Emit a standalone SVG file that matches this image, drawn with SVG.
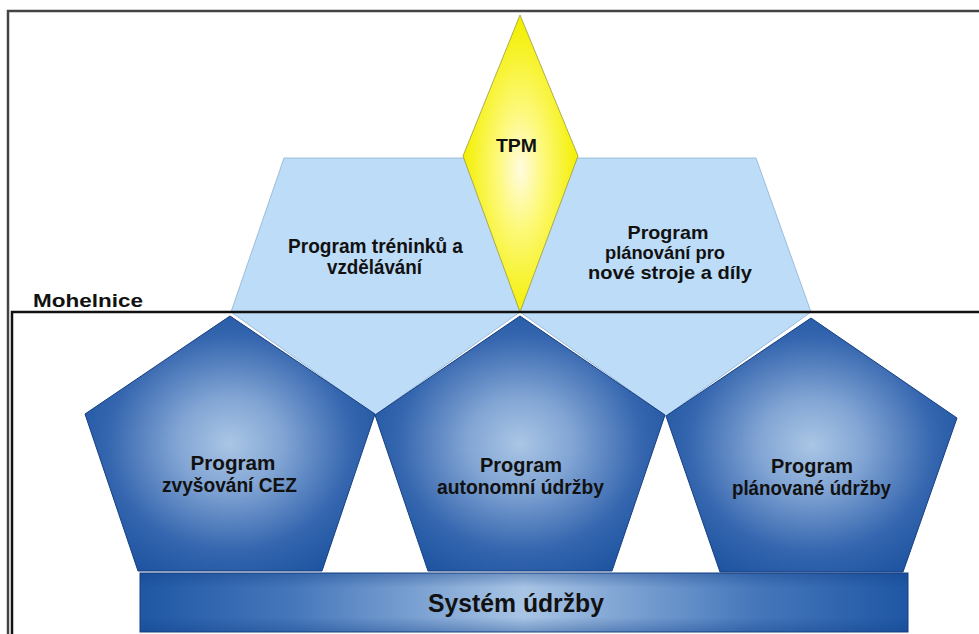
<svg xmlns="http://www.w3.org/2000/svg" width="979" height="634" viewBox="0 0 979 634">
  <defs>
    <radialGradient id="penta" cx="0.5" cy="0.5" r="0.6">
      <stop offset="0" stop-color="#aac6e5"/>
      <stop offset="0.3" stop-color="#82a5d4"/>
      <stop offset="0.7" stop-color="#3566af"/>
      <stop offset="1" stop-color="#1b529f"/>
    </radialGradient>
    <radialGradient id="gold" cx="0.5" cy="0.52" r="0.5">
      <stop offset="0" stop-color="#fffbe0"/>
      <stop offset="0.4" stop-color="#fdf97a"/>
      <stop offset="1" stop-color="#f3ef00"/>
    </radialGradient>
    <linearGradient id="bar" x1="0" y1="0" x2="1" y2="0">
      <stop offset="0" stop-color="#1f57a4"/>
      <stop offset="0.2" stop-color="#4677bb"/>
      <stop offset="0.5" stop-color="#a9c5e5"/>
      <stop offset="0.8" stop-color="#4677bb"/>
      <stop offset="1" stop-color="#1f57a4"/>
    </linearGradient>
    <linearGradient id="barShade" x1="0" y1="0" x2="0" y2="1">
      <stop offset="0" stop-color="#0d3d85" stop-opacity="0.35"/>
      <stop offset="0.25" stop-color="#0d3d85" stop-opacity="0"/>
      <stop offset="0.75" stop-color="#0d3d85" stop-opacity="0"/>
      <stop offset="1" stop-color="#0d3d85" stop-opacity="0.35"/>
    </linearGradient>
  </defs>
  <style>
    .lbl { font-family: "Liberation Sans", Arial, sans-serif; font-weight: bold; fill: #111; }
    .pillar { fill: #bddcf8; stroke: #8fb0d0; stroke-width: 0.8; }
    .pent { fill: url(#penta); stroke: #163f80; stroke-width: 1; }
    .frame { fill: none; }
  </style>

  <rect width="979" height="634" fill="#ffffff"/>

  <!-- outer frame -->
  <path class="frame" d="M8 640 V11 H990" stroke="#444" stroke-width="2.5"/>

  <!-- upper pillars -->
  <g id="training">
    <polygon class="pillar" points="284,158 472,158 520,312 375,415 231,312"/>
    <text class="lbl" font-size="20" x="375.5" y="253" text-anchor="middle" textLength="175" lengthAdjust="spacingAndGlyphs">Program tréninků a</text>
    <text class="lbl" font-size="20" x="374.5" y="274" text-anchor="middle" textLength="95" lengthAdjust="spacingAndGlyphs">vzdělávání</text>
  </g>
  <g id="planning-new">
    <polygon class="pillar" points="570,158 756,158 811,312 666,416 520,312"/>
    <text class="lbl" font-size="19" x="668" y="239" text-anchor="middle" textLength="81" lengthAdjust="spacingAndGlyphs">Program</text>
    <text class="lbl" font-size="19" x="665" y="259" text-anchor="middle" textLength="120" lengthAdjust="spacingAndGlyphs">plánování pro</text>
    <text class="lbl" font-size="19" x="670" y="279" text-anchor="middle" textLength="164" lengthAdjust="spacingAndGlyphs">nové stroje a díly</text>
  </g>

  <!-- apex -->
  <g id="tpm">
    <polygon points="520,15 578,156 520,312 463,156" fill="url(#gold)" stroke="#9a9a40" stroke-width="0.8"/>
    <text class="lbl" font-size="19" x="516.5" y="152" text-anchor="middle" textLength="41" lengthAdjust="spacingAndGlyphs">TPM</text>
  </g>

  <!-- inner frame -->
  <g id="mohelnice">
    <path class="frame" d="M12 640 V312 H990" stroke="#111" stroke-width="2.5"/>
    <text class="lbl" font-size="19" x="33" y="307" textLength="110" lengthAdjust="spacingAndGlyphs">Mohelnice</text>
  </g>

  <!-- pillars -->
  <g id="oee">
    <polygon class="pent" points="230,316 375,414 322,571 138,571 85,414"/>
    <text class="lbl" font-size="19.5" x="233" y="470" text-anchor="middle" textLength="85" lengthAdjust="spacingAndGlyphs">Program</text>
    <text class="lbl" font-size="19.5" x="229.5" y="492" text-anchor="middle" textLength="135" lengthAdjust="spacingAndGlyphs">zvyšování CEZ</text>
  </g>
  <g id="autonomous">
    <polygon class="pent" points="520,316 665,415 612,571 428,571 375,415"/>
    <text class="lbl" font-size="19.5" x="521" y="472" text-anchor="middle" textLength="82" lengthAdjust="spacingAndGlyphs">Program</text>
    <text class="lbl" font-size="19.5" x="520.5" y="494" text-anchor="middle" textLength="167" lengthAdjust="spacingAndGlyphs">autonomní údržby</text>
  </g>
  <g id="planned">
    <polygon class="pent" points="811,318 957,418 903,572 720,572 666,416"/>
    <text class="lbl" font-size="19.5" x="812" y="473" text-anchor="middle" textLength="82" lengthAdjust="spacingAndGlyphs">Program</text>
    <text class="lbl" font-size="19.5" x="811.5" y="495" text-anchor="middle" textLength="159" lengthAdjust="spacingAndGlyphs">plánované údržby</text>
  </g>

  <!-- base -->
  <g id="system">
    <rect x="140" y="573" width="768" height="59" fill="url(#bar)" stroke="#163f80" stroke-width="1"/>
    <rect x="140" y="573" width="768" height="59" fill="url(#barShade)"/>
    <text class="lbl" font-size="25" x="516" y="612" text-anchor="middle" textLength="176" lengthAdjust="spacingAndGlyphs">Systém údržby</text>
  </g>
</svg>
